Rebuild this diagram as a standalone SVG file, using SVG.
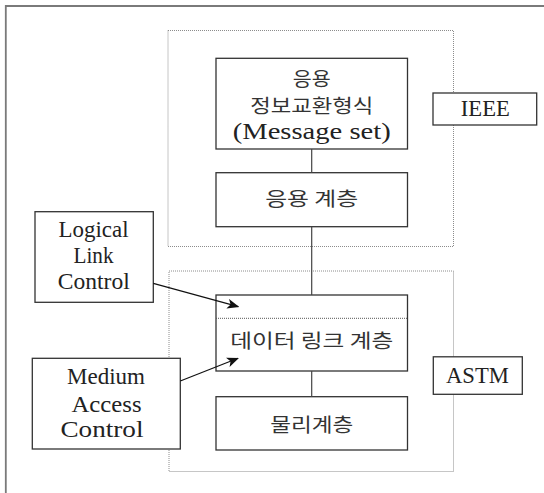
<svg xmlns="http://www.w3.org/2000/svg" width="544" height="493" viewBox="0 0 544 493">
  <defs>
    <style>
      .frame { fill: none; stroke: #7a7a7a; stroke-width: 1.8; }
      .group { fill: none; stroke: #8c8c8c; stroke-width: 1; stroke-dasharray: 1 1; }
      .box { fill: #ffffff; stroke: #333333; stroke-width: 1.3; }
      .sep { stroke: #555555; stroke-width: 1; stroke-dasharray: 1 1; }
      .link { fill: none; stroke: #444444; stroke-width: 1.2; }
      .arrow { fill: none; stroke: #111111; stroke-width: 1.2; }
      .en { font-size: 23px; fill: #222222; text-anchor: middle; }
      .ko { font-size: 19px; fill: #333333; text-anchor: middle; }
    </style>
    <marker id="head" viewBox="0 0 12 10" refX="11" refY="5" markerWidth="12" markerHeight="10" markerUnits="userSpaceOnUse" orient="auto">
      <path d="M0,0 L12,5 L0,10 L3,5 Z" fill="#111111"/>
    </marker>
  </defs>

  <!-- page frame (top and left edges) -->
  <polyline class="frame" points="5.8,493 5.8,6 544,6"/>

  <!-- standard body groupings -->
  <rect id="ieee-group" class="group" x="168" y="30.5" width="285.5" height="216"/>
  <rect id="astm-group" class="group" x="169" y="271" width="284.5" height="200.5"/>

  <g id="message-set">
    <rect class="box" x="216" y="58.3" width="191.5" height="90.7"/>
    <text class="ko" font-family="Noto Sans CJK KR, sans-serif" x="311.7" y="86" textLength="38" lengthAdjust="spacingAndGlyphs">응용</text>
    <text class="ko" font-family="Noto Sans CJK KR, sans-serif" x="311.7" y="112.5" textLength="123" lengthAdjust="spacingAndGlyphs">정보교환형식</text>
    <text class="en" font-family="Liberation Serif, serif" x="311.7" y="139.3" font-size="24" textLength="158" lengthAdjust="spacingAndGlyphs">(Message set)</text>
  </g>

  <g id="application-layer">
    <rect class="box" x="216" y="172.7" width="191.5" height="54"/>
    <text class="ko" font-family="Noto Sans CJK KR, sans-serif" x="311.7" y="206" textLength="93" lengthAdjust="spacingAndGlyphs">응용 계층</text>
  </g>

  <g id="data-link-layer">
    <rect class="box" x="216" y="295" width="191.5" height="76"/>
    <line class="sep" x1="216" y1="318.3" x2="407.5" y2="318.3"/>
    <text class="ko" font-family="Noto Sans CJK KR, sans-serif" x="311.7" y="348" textLength="163" lengthAdjust="spacingAndGlyphs">데이터 링크 계층</text>
  </g>

  <g id="physical-layer">
    <rect class="box" x="216" y="396.7" width="191.5" height="53.3"/>
    <text class="ko" font-family="Noto Sans CJK KR, sans-serif" x="311.7" y="432" textLength="83" lengthAdjust="spacingAndGlyphs">물리계층</text>
  </g>

  <g id="ieee" font-family="Liberation Serif, serif">
    <rect class="box" x="433" y="93" width="103.7" height="32"/>
    <text class="en" x="485.3" y="116" textLength="49" lengthAdjust="spacingAndGlyphs">IEEE</text>
  </g>

  <g id="astm" font-family="Liberation Serif, serif">
    <rect class="box" x="433.3" y="356.8" width="89" height="37.5"/>
    <text class="en" x="477.5" y="383.3" textLength="63" lengthAdjust="spacingAndGlyphs">ASTM</text>
  </g>

  <g id="llc" font-family="Liberation Serif, serif">
    <rect class="box" x="35" y="211.7" width="118.3" height="90.6"/>
    <text class="en" x="93.5" y="236.7" textLength="70" lengthAdjust="spacingAndGlyphs">Logical</text>
    <text class="en" x="93.5" y="263" textLength="40" lengthAdjust="spacingAndGlyphs">Link</text>
    <text class="en" x="93.8" y="289" textLength="72" lengthAdjust="spacingAndGlyphs">Control</text>
  </g>

  <g id="mac" font-family="Liberation Serif, serif">
    <rect class="box" x="32.3" y="358.3" width="148" height="90.7"/>
    <text class="en" x="106" y="384" textLength="78" lengthAdjust="spacingAndGlyphs">Medium</text>
    <text class="en" x="106.5" y="411.5" textLength="70" lengthAdjust="spacingAndGlyphs">Access</text>
    <text class="en" x="102" y="437" textLength="83" lengthAdjust="spacingAndGlyphs">Control</text>
  </g>

  <!-- connectors drawn last so arrowheads sit over the box fill -->
  <g id="connectors">
    <line class="link" x1="311.7" y1="149" x2="311.7" y2="172.7"/>
    <line class="link" x1="311.7" y1="226.7" x2="311.7" y2="295"/>
    <line class="link" x1="311.7" y1="371" x2="311.7" y2="396.7"/>
    <line class="arrow" x1="153.3" y1="283.3" x2="238.3" y2="306.7" marker-end="url(#head)"/>
    <line class="arrow" x1="180.3" y1="381" x2="238" y2="358.3" marker-end="url(#head)"/>
  </g>
</svg>
